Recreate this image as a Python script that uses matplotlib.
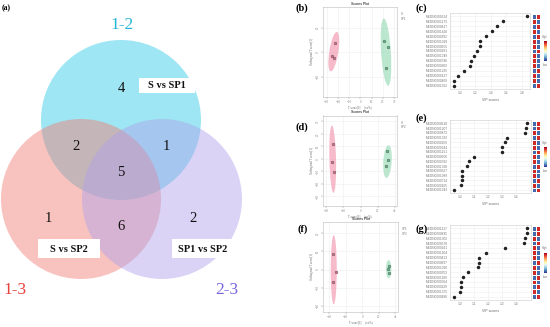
import numpy as np
import matplotlib.pyplot as plt
from matplotlib.patches import Circle, Rectangle, Ellipse

# --- 1. DATA ---
# Venn (a)
venn_sets = ['1-2', '1-3', '2-3']
venn_names = ['S vs SP1', 'S vs SP2', 'SP1 vs SP2']
# only 1-2, only 1-3, only 2-3, 12&13, 12&23, 13&23, all three
venn_counts = [4, 1, 2, 2, 1, 6, 5]

# OPLS-DA score plots (b), (d), (f): group 1 (pink) and group 2 (green)
b_g1_x = [-22.3, -25.0, -23.2]
b_g1_y = [7.8, -2.8, -4.7]
b_g2_x = [20.9, 24.5, 23.2]
b_g2_y = [9.0, 4.3, -12.8]
b_groups = ['S', 'SP1']

d_g1_x = [-31.9, -33.4, -31.1]
d_g1_y = [11.8, -2.2, -10.4]
d_g2_x = [31.1, 32.3, 29.2]
d_g2_y = [6.5, -0.9, -5.9]
d_groups = ['S', 'SP2']

f_g1_x = [-35.2, -31.9, -35.2]
f_g1_y = [8.4, -1.2, -7.1]
f_g2_x = [32.7, 31.1, 31.9]
f_g2_y = [2.1, 0.3, -2.1]
f_groups = ['SP1', 'SP2']

# VIP scores (c), (e), (g), top row first
c_vip = [1.865, 1.562, 1.476, 1.411, 1.333, 1.259, 1.264, 1.225, 1.186,
         1.143, 1.130, 1.048, 0.970, 0.926, 0.918]
e_vip = [1.479, 1.477, 1.469, 1.340, 1.321, 1.302, 1.299, 1.101, 1.065,
         1.050, 1.014, 1.012, 1.012, 1.005, 0.954]
g_vip = [1.479, 1.476, 1.464, 1.455, 1.324, 1.188, 1.136, 1.136, 1.131,
         1.055, 1.021, 1.010, 1.010, 1.002, 0.955]

c_ids = ['MEDN0000524', 'MEDN0001173', 'MEDN0000817', 'MEDN0001426', 'MEDN0000392',
         'MEDN0001018', 'MEDN0000655', 'MEDN0000281', 'MEDN0001349', 'MEDN0000746',
         'MEDN0000903', 'MEDN0001285', 'MEDN0000137', 'MEDN0000469', 'MEDN0001062']
e_ids = ['MEDN0000618', 'MEDN0001207', 'MEDN0000873', 'MEDN0001332', 'MEDN0000259',
         'MEDN0000944', 'MEDN0001151', 'MEDN0000506', 'MEDN0000782', 'MEDN0001398',
         'MEDN0000327', 'MEDN0001089', 'MEDN0000714', 'MEDN0000165', 'MEDN0001243']
g_ids = ['MEDN0001117', 'MEDN0000835', 'MEDN0001302', 'MEDN0000578', 'MEDN0000941',
         'MEDN0001264', 'MEDN0000413', 'MEDN0000697', 'MEDN0001026', 'MEDN0000352',
         'MEDN0001189', 'MEDN0000764', 'MEDN0000229', 'MEDN0001375', 'MEDN0000486']

# relative level in the two groups (left column), right column is the opposite
c_level = [-1, 1, -1, 1, -1, 1, 1, -1, 1, 1, 1, -1, 1, 1, -1]
e_level = [-1, -1, 1, -1, 1, 1, -1, 1, 1, -1, 1, 1, -1, 1, -1]
g_level = [-1, -1, 1, -1, 1, 1, 1, -1, 1, 1, -1, 1, -1, 1, -1]

# --- 2. FIGURE ---
plt.rcParams['font.family'] = ['Liberation Serif', 'DejaVu Serif']
W, H = 550, 327
fig = plt.figure(figsize=(5.5, 3.27), dpi=100)


def px_axes(x0, y0, x1, y1):
    # axes placed by pixel box (left, top, right, bottom)
    return fig.add_axes([x0 / W, 1 - y1 / H, (x1 - x0) / W, (y1 - y0) / H])


# --- (a) Venn, drawn in pixel space ---
ax = px_axes(0, 0, 290, 327)
ax.set_xlim(0, 290)
ax.set_ylim(327, 0)
ax.axis('off')

circle_centers = [(121, 120), (81, 199), (162, 199)]
circle_colors = ['#2dc9e5', '#f17d75', '#afa1eb']
for (cx, cy), col in zip(circle_centers, circle_colors):
    ax.add_patch(Circle((cx, cy), 80, facecolor=col, alpha=0.46, edgecolor='none'))

count_pos = [(121.7, 88), (48, 218), (193, 218), (76, 147), (166, 147), (121, 226), (121, 172)]
for (x, y), n in zip(count_pos, venn_counts):
    ax.text(x, y, str(n), ha='center', va='center', fontsize=10.5, color='#111')

set_pos = [(121.7, 25), (15, 290), (227, 290)]
set_colors = ['#22b6d6', '#e8403a', '#7866de']
for (x, y), s, col in zip(set_pos, venn_sets, set_colors):
    ax.text(x, y, s, ha='center', va='center', fontsize=12.5, color=col)

box_pos = [(139, 78, 56, 15), (38, 239, 62, 19), (172, 239, 61, 19)]
for (x, y, w, h), s in zip(box_pos, venn_names):
    ax.add_patch(Rectangle((x, y), w, h, facecolor='white', edgecolor='none'))
    ax.text(x + w / 2, y + h / 2 + 0.5, s, ha='center', va='center',
            fontsize=7.5, fontweight='bold', color='#111')

fig.text(2 / W, 1 - 8 / H, '(a)', fontsize=5.5, fontweight='bold', va='center')


# --- (b), (d), (f) score plots ---
def score_panel(rect, g1x, g1y, g2x, g2y, ell1, ell2, xlim, ylim, xt, yt, groups):
    a = px_axes(*rect)
    for (cx, cy, w, h, ang), col in zip([ell1, ell2], ['#f4a3b9', '#a6dfc0']):
        a.add_patch(Ellipse((cx, cy), w, h, angle=ang, facecolor=col,
                            edgecolor='none', alpha=0.75, zorder=1))
    a.plot(g1x, g1y, 'o', ms=2.0, mfc='#d86a86', mec='#555555', mew=0.3, zorder=3)
    a.plot(g2x, g2y, 'o', ms=2.0, mfc='#5cb88a', mec='#555555', mew=0.3, zorder=3)
    a.set_xlim(*xlim)
    a.set_ylim(*ylim)
    a.set_xticks(xt)
    a.set_yticks(yt)
    a.grid(color='#eeeeee', lw=0.4)
    a.set_axisbelow(True)
    for sp in a.spines.values():
        sp.set_color('#bbbbbb')
        sp.set_linewidth(0.4)
    a.tick_params(length=1.2, width=0.3, labelsize=2.3, colors='#888888', pad=1)
    for lb in a.get_yticklabels():
        lb.set_rotation(90)
        lb.set_va('center')
    a.set_title('Scores Plot', fontsize=2.5, pad=1.5, family='Liberation Sans')
    a.set_xlabel('T score[1]     (xx%)', fontsize=2.2, labelpad=1, color='#666666')
    a.set_ylabel('Orthogonal T score[1]', fontsize=2.2, labelpad=1, color='#666666')
    fig.text((rect[2] + 4) / W, 1 - (rect[1] + 5) / H, '\n'.join(groups),
             fontsize=2.2, color='#777777', va='top', family='Liberation Sans')
    return a


score_panel((322.7, 7.3, 397.3, 96.7), b_g1_x, b_g1_y, b_g2_x, b_g2_y,
            (-23.7, 0.5, 8.0, 32.6, -10), (22.8, 0.1, 8.7, 55.0, 4),
            (-33.6, 32.9), (-36.2, 36.6), range(-30, 31, 10), [-20, 0, 20], b_groups)
score_panel((322.7, 115.5, 397.3, 206.0), d_g1_x, d_g1_y, d_g2_x, d_g2_y,
            (-32.3, -0.3, 7.7, 54.2, 2), (31.3, -2.2, 9.7, 26.4, -6),
            (-43.9, 42.7), (-37.9, 34.8), range(-40, 41, 20), range(-30, 31, 10), d_groups)
score_panel((322.7, 222.3, 398.3, 311.7), f_g1_x, f_g1_y, f_g2_x, f_g2_y,
            (-34.7, -0.1, 7.3, 38.3, 0), (31.9, 0.2, 6.5, 10.1, 0),
            (-48.1, 43.6), (-23.3, 26.1), range(-40, 41, 20), range(-20, 21, 10), f_groups)


# --- (c), (e), (g) VIP plots ---
def vip_panel(rect, vip, ids, level, xlim, xt):
    x0, y0, x1, y1 = rect
    a = px_axes(x0, y0, x1, y1)
    rows = np.arange(len(vip))
    a.plot(vip, rows, 'o', ms=1.5, color='#222222', zorder=3)
    a.set_ylim(len(vip) - 0.3, -0.7)
    a.set_xlim(*xlim)
    a.set_yticks(rows)
    a.set_yticklabels(ids, family='Liberation Sans')
    a.set_xticks(xt)
    a.set_xticklabels([f'{v:.1f}' for v in xt], family='Liberation Sans')
    a.grid(color='#eeeeee', lw=0.4)
    a.set_axisbelow(True)
    for sp in a.spines.values():
        sp.set_color('#cccccc')
        sp.set_linewidth(0.4)
    a.tick_params(length=0, labelsize=2.3, colors='#777777', pad=1.5)
    a.set_xlabel('VIP scores', fontsize=2.5, labelpad=2, color='#666666',
                 family='Liberation Sans')
    # two-column group heatmap
    row_h = (y1 - y0) / (len(vip) + 0.4)
    top = y0 + 0.2 * row_h
    h = px_axes(532, top, 540, top + row_h * len(vip))
    vals = np.array([[lv, -lv] for lv in level])
    h.pcolormesh(vals, cmap='RdYlBu_r', vmin=-1.2, vmax=1.2,
                 edgecolors='white', linewidth=0.5)
    h.set_ylim(len(vip), 0)
    h.axis('off')
    # colour key
    mid = (y0 + y1) / 2
    cb = px_axes(543.5, mid - 10, 546.5, mid + 10)
    cb.imshow(np.linspace(1, -1, 50).reshape(-1, 1), cmap='RdYlBu_r', aspect='auto')
    cb.axis('off')
    fig.text(545 / W, 1 - (mid - 12) / H, 'High', fontsize=2, ha='center',
             va='bottom', color='#777777', family='Liberation Sans')
    fig.text(545 / W, 1 - (mid + 12) / H, 'Low', fontsize=2, ha='center',
             va='top', color='#777777', family='Liberation Sans')


vip_panel((450, 12.7, 530, 89.3), c_vip, c_ids, c_level, (0.87, 1.908), [1.0, 1.2, 1.4, 1.6, 1.8])
vip_panel((450, 120, 530.7, 193.3), e_vip, e_ids, e_level, (0.928, 1.508), [1.0, 1.1, 1.2, 1.3, 1.4])
vip_panel((450, 225, 530.7, 300), g_vip, g_ids, g_level, (0.929, 1.505), [1.0, 1.1, 1.2, 1.3, 1.4])

for lab, x, y in [('(b)', 296, 8), ('(d)', 296, 127), ('(f)', 297, 229),
                  ('(c)', 415, 8), ('(e)', 415, 118), ('(g)', 415, 229)]:
    fig.text(x / W, 1 - y / H, lab, fontsize=7.5, fontweight='bold', va='center')

fig.savefig('out.png', dpi=100)
